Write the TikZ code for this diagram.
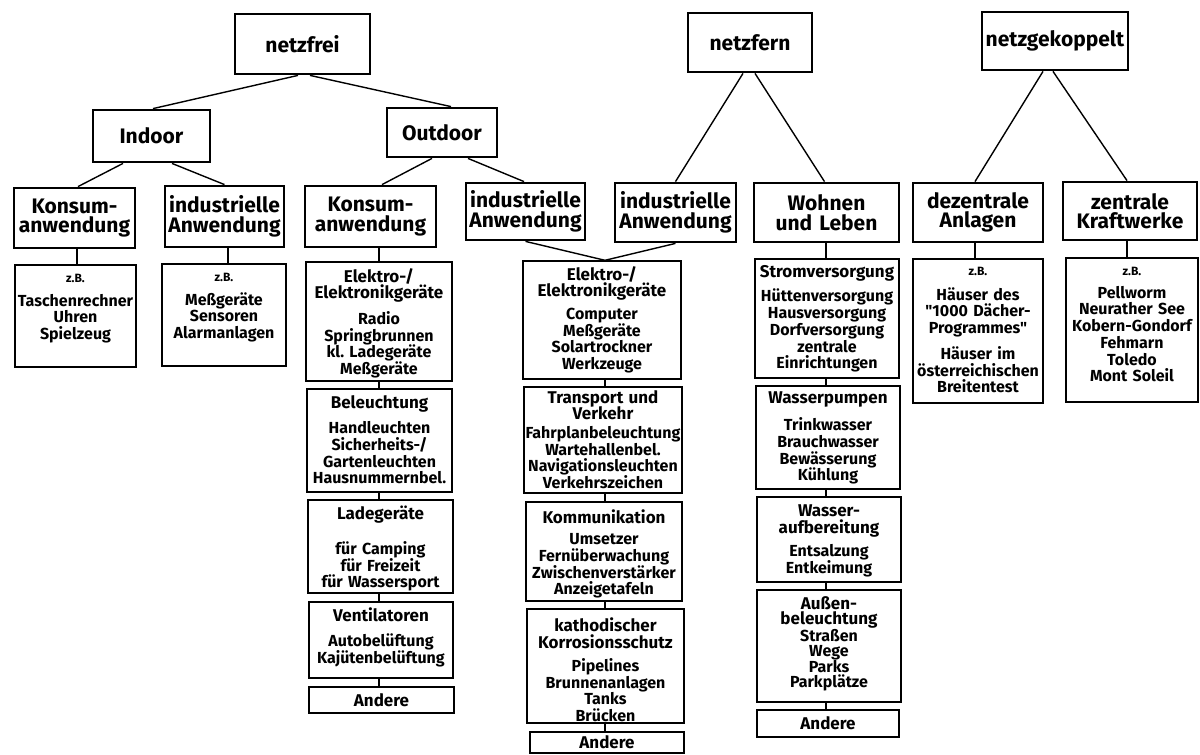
\documentclass[tikz,border=0pt]{standalone}
\usepackage{fontspec}
\setmainfont{Fira Sans}[Ligatures=TeXOff]
\frenchspacing
\newcommand\lvlf{\bfseries\fontsize{21}{19.5}\selectfont}
\newcommand\itf{\bfseries\fontsize{16}{16.7}\selectfont}
\newcommand\hdf{\fontsize{17}{17}\selectfont}
\newcommand\zbf{\fontsize{12}{12}\selectfont}
\tikzset{
 lvl/.style={draw,line width=2.8pt,inner sep=0pt,align=center,font=\lvlf},
 sbox/.style={draw,line width=1.4pt,inner sep=0pt,align=center,font=\bfseries\hdf},
 txt/.style={inner sep=0pt,align=center,font=\itf,anchor=north},
 conn/.style={line width=1.4pt}
}
\newcommand\LB[6]{\pgfmathsetmacro\myw{#4-#2}\pgfmathsetmacro\myh{#5-#3}\pgfmathsetmacro\mycx{(#2+#4)/2}\pgfmathsetmacro\mycy{(#3+#5)/2}%
 \node[lvl,minimum width=\myw pt,minimum height=\myh pt,text width=\myw pt] (#1) at (\mycx,\mycy) {#6};}
\newcommand\SB[8]{\pgfmathsetmacro\myw{#4-#2}\pgfmathsetmacro\myh{#5-#3}\pgfmathsetmacro\mycx{(#2+#4)/2}\pgfmathsetmacro\mycy{(#3+#5)/2}\pgfmathsetmacro\mytw{#4-#2-2}%
 \node[sbox,minimum width=\myw pt,minimum height=\myh pt] (#1) at (\mycx,\mycy) {};%
 \node[txt,text width=\mytw pt,#7] (#1t) at (\mycx,#6) {#8};}
\newcommand\AB[6]{\pgfmathsetmacro\myw{#4-#2}\pgfmathsetmacro\myh{#5-#3}\pgfmathsetmacro\mycx{(#2+#4)/2}\pgfmathsetmacro\mycy{(#3+#5)/2}%
 \node[sbox,minimum width=\myw pt,minimum height=\myh pt] (#1) at (\mycx,\mycy) {#6};}
\begin{document}
\begin{tikzpicture}[x=1pt,y=-1pt]
\fill[white] (0,0) rectangle (1200,755);
\useasboundingbox (0,0) rectangle (1200,755);
% level boxes
\LB{nf}{235}{14}{370}{74}{netzfrei}
\LB{ind}{93}{110}{210}{162}{Indoor}
\LB{outd}{387}{108}{497}{157}{Outdoor}
\LB{k1}{14}{188}{135}{248}{Konsum-\\anwendung}
\LB{i1}{165}{186}{284}{247}{industrielle\\Anwendung}
\LB{k2}{305}{186}{436}{247}{Konsum-\\anwendung}
\LB{i2}{466}{183}{585}{240}{industrielle\\Anwendung}
\LB{nfe}{688}{13}{812}{72}{netzfern}
\LB{ngk}{982}{12}{1128}{70}{netzgekoppelt}
\LB{i3}{615}{183}{736}{242}{industrielle\\Anwendung}
\LB{wl}{754}{183}{899}{242}{Wohnen\\und Leben}
\LB{dz}{913}{183}{1043}{242}{dezentrale\\Anlagen}
\LB{zk}{1063}{182}{1197}{240}{zentrale\\Kraftwerke}
% bottom boxes
\SB{ex1}{15}{265}{136}{367}{274}{}{{\zbf z.B.}\\[7pt]Taschenrechner\\Uhren\\Spielzeug}
\SB{ex2}{162}{264}{286}{366}{273}{}{{\zbf z.B.}\\[7pt]Meßgeräte\\Sensoren\\Alarmanlagen}
\SB{kc1}{306}{262}{452}{381}{268}{}{{\hdf Elektro-/\\Elektronikgeräte}\\[8pt]Radio\\Springbrunnen\\kl. Ladegeräte\\Meßgeräte}
\SB{kc2}{307}{389}{452}{492}{395}{}{{\hdf Beleuchtung}\\[9pt]Handleuchten\\Sicherheits-/\\Gartenleuchten\\Hausnummernbel.}
\SB{kc3}{308}{500}{453}{593}{506}{}{{\hdf Ladegeräte\hspace*{18pt}}\\[17pt]für Camping\\für Freizeit\\für Wassersport}
\SB{kc4}{309}{602}{453}{678}{608}{}{{\hdf Ventilatoren}\\[8pt]Autobelüftung\\Kajütenbelüftung}
\AB{kc5}{309}{687}{454}{713}{Andere}
\SB{m1}{523}{261}{681}{379}{266}{}{{\fontsize{17}{19.5}\selectfont Elektro-/\\Elektronikgeräte}\\[6pt]Computer\\Meßgeräte\\Solartrockner\\Werkzeuge}
\SB{m2}{524}{387}{682}{493}{390}{}{{\hdf Transport und\\Verkehr}\\[2pt]Fahrplanbeleuchtung\\Wartehallenbel.\\Navigationsleuchten\\Verkehrszeichen}
\SB{m3}{526}{502}{682}{601}{510}{}{{\hdf Kommunikation}\\[4pt]Umsetzer\\Fernüberwachung\\Zwischenverstärker\\Anzeigetafeln}
\SB{m4}{527}{609}{684}{723}{618}{}{{\hdf kathodischer\\Korrosionsschutz}\\[6pt]Pipelines\\Brunnenanlagen\\Tanks\\Brücken}
\AB{m5}{530}{732}{684}{753}{Andere}
\SB{w1}{755}{259}{899}{378}{265}{}{{\hdf Stromversorgung}\\[8pt]Hüttenversorgung\\Hausversorgung\\Dorfversorgung\\zentrale\\Einrichtungen}
\SB{w2}{756}{386}{900}{489}{392}{}{{\hdf Wasserpumpen}\\[9pt]Trinkwasser\\Brauchwasser\\Bewässerung\\Kühlung}
\SB{w3}{757}{497}{901}{582}{505}{}{{\fontsize{17}{18}\selectfont Wasser-\\aufbereitung}\\[6pt]Entsalzung\\Entkeimung}
\SB{w4}{757}{590}{901}{702}{596}{font=\bfseries\fontsize{16}{15}\selectfont}{{\hdf Außen-\\beleuchtung}\\Straßen\\Wege\\Parks\\Parkplätze}
\AB{w5}{757}{710}{899}{737}{Andere}
\SB{dzex}{913}{259}{1043}{403}{267}{}{{\zbf z.B.}\\[8pt]Häuser des\\"1000 Dächer-\\Programmes"\\[9pt]Häuser im\\österreichischen\\Breitentest}
\SB{zkex}{1066}{258}{1198}{402}{267}{}{{\zbf z.B.}\\[6pt]Pellworm\\Neurather See\\Kobern-Gondorf\\Fehmarn\\Toledo\\Mont Soleil}
% connector x positions
\coordinate (xa) at (77,0);
\coordinate (xb) at (228,0);
\coordinate (kx) at (379,0);
\coordinate (mx) at (605,0);
\coordinate (wx) at (826,0);
\coordinate (dx) at (975,0);
\coordinate (zx) at (1127,0);
% tree connectors
\draw[conn] ([xshift=-4.5pt]nf.south) -- ([xshift=1.5pt]ind.north);
\draw[conn] ([xshift=7.5pt]nf.south) -- ([xshift=9pt]outd.north);
\draw[conn] ([xshift=-28.5pt]ind.south) -- ([xshift=3.5pt]k1.north);
\draw[conn] ([xshift=20.5pt]ind.south) -- (i1.north);
\draw[conn] ([xshift=-10pt]outd.south) -- ([xshift=11.5pt]k2.north);
\draw[conn] ([xshift=26pt]outd.south) -- ([xshift=-1.5pt]i2.north);
\draw[conn] ([xshift=-7pt]nfe.south) -- (i3.north);
\draw[conn] ([xshift=5pt]nfe.south) -- ([xshift=-2pt]wl.north);
\draw[conn] ([xshift=-12pt]ngk.south) -- ([xshift=-3pt]dz.north);
\draw[conn] ([xshift=-2pt]ngk.south) -- ([xshift=-3pt]zk.north);
% verticals
\draw[conn] (k1.south -| xa) -- (ex1.north -| xa);
\draw[conn] (i1.south -| xb) -- (ex2.north -| xb);
\draw[conn] (k2.south -| kx) -- (kc1.north -| kx);
\draw[conn] (kc1.south -| kx) -- (kc2.north -| kx);
\draw[conn] (kc2.south -| kx) -- (kc3.north -| kx);
\draw[conn] (kc3.south -| kx) -- (kc4.north -| kx);
\draw[conn] (kc4.south -| kx) -- (kc5.north -| kx);
\draw[conn] (i2.south) -- (m1.north -| mx);
\draw[conn] (i3.south) -- (m1.north -| mx);
\draw[conn] (m1.south -| mx) -- (m2.north -| mx);
\draw[conn] (m2.south -| mx) -- (m3.north -| mx);
\draw[conn] (m3.south -| mx) -- (m4.north -| mx);
\draw[conn] (m4.south -| mx) -- (m5.north -| mx);
\draw[conn] (wl.south -| wx) -- (w1.north -| wx);
\draw[conn] (w1.south -| wx) -- (w2.north -| wx);
\draw[conn] (w2.south -| wx) -- (w3.north -| wx);
\draw[conn] (w3.south -| wx) -- (w4.north -| wx);
\draw[conn] (w4.south -| wx) -- (w5.north -| wx);
\draw[conn] (dz.south -| dx) -- (dzex.north -| dx);
\draw[conn] (zk.south -| zx) -- (zkex.north -| zx);
\end{tikzpicture}
\end{document}
